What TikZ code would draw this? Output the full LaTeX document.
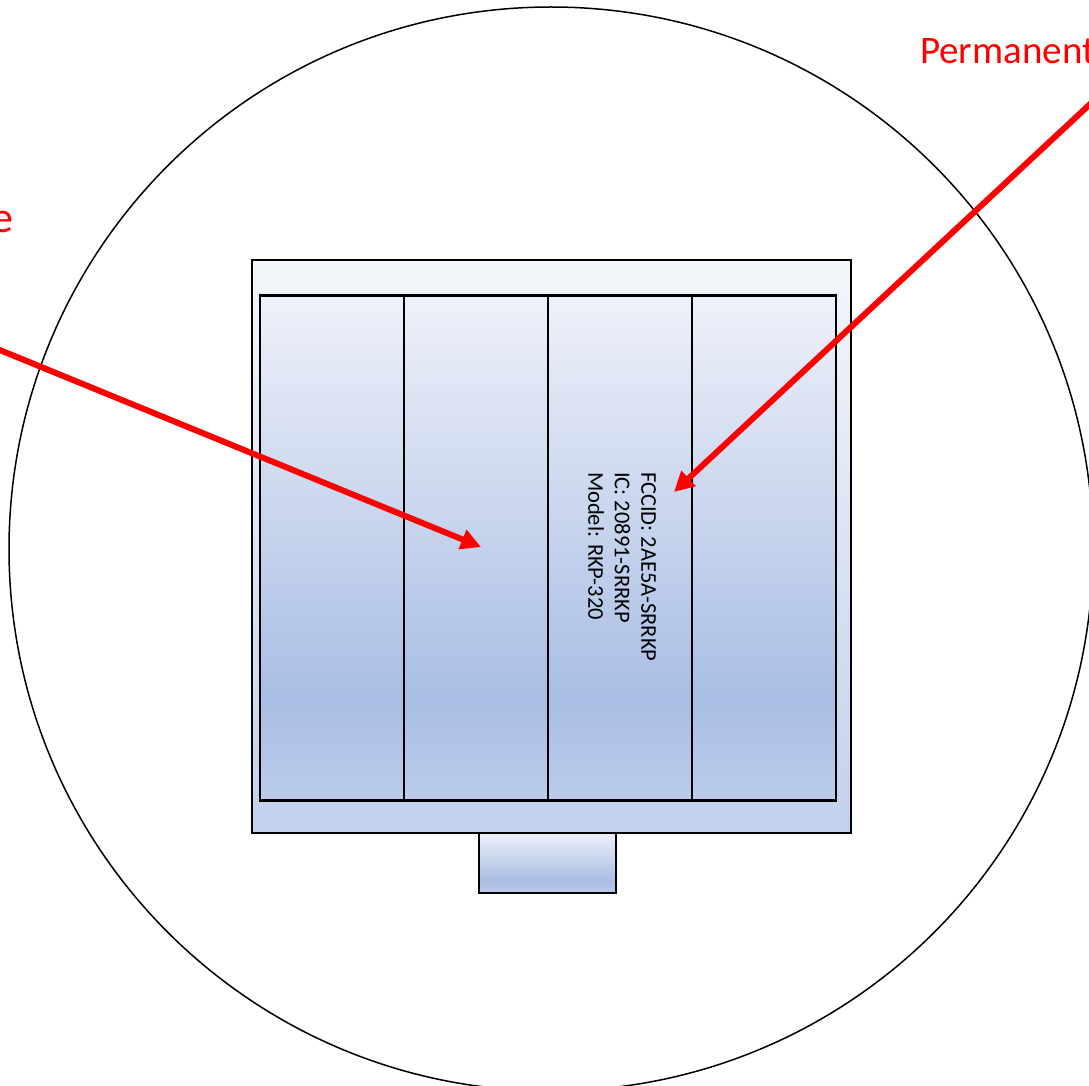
\documentclass[tikz,border=0pt]{standalone}
\usepackage{fontspec}
\setmainfont{Carlito}
\usetikzlibrary{positioning}
\usetikzlibrary{arrows.meta}
\definecolor{ptop}{RGB}{238,241,249}
\definecolor{pmid}{RGB}{169,190,228}
\definecolor{pbot}{RGB}{188,203,235}
\definecolor{btop}{RGB}{244,246,251}
\definecolor{bbot}{RGB}{194,209,236}
\pgfdeclareverticalshading{panelfill}{100bp}{color(0bp)=(pbot); color(25bp)=(pbot); color(35bp)=(pmid); color(75bp)=(ptop); color(100bp)=(ptop)}

\begin{document}
\begin{tikzpicture}[x=1pt,y=-1pt,
  outer sep=0pt, inner sep=0pt,
  panel/.style={draw,line width=2.2pt,shading=panelfill,minimum width=144pt,minimum height=505pt},
  ptr/.style={draw=red,line width=6pt,-{Triangle[length=20pt,width=20pt]}},
  callout/.style={text=red,font=\fontsize{39}{47}\selectfont}]
\useasboundingbox (0,0) rectangle (1089,1086);
\draw[line width=1.5pt] (551,549) circle[radius=542pt];
\node (case) [draw,line width=2.2pt,top color=btop,bottom color=bbot,minimum width=599pt,minimum height=573pt] at (551.5,546.5) {};
\node (pa) [panel] at (332,548) {};
\node (pb) [panel,right=0pt of pa] {};
\node (pc) [panel,right=0pt of pb] {};
\node (pd) [panel,right=0pt of pc] {};
\node (tab) [draw,line width=2.2pt,shading=panelfill,minimum width=137pt,minimum height=60pt] at (547.5,863) {};
\node (fcc) [rotate=-90,anchor=north west,align=left,font=\fontsize{22.5}{26.5}\selectfont] at (656,472) {FCCID: 2AE5A-SRRKP\\IC: 20891-SRRKP\\Model: RKP-320};
\node (perm) [callout,anchor=base west] at (920,64) {Permanent};
\node (elabel) [callout,anchor=base east,font=\fontsize{44}{52}\selectfont] at (13,232) {e};
\coordinate (lfrom) at (-10,346);
\coordinate (lto) at (481,547);
\coordinate (rfrom) at (1095,99.5);
\coordinate (rto) at (674,492);
\draw[ptr] (lfrom) -- (lto);
\draw[ptr] (rfrom) -- (rto);
\end{tikzpicture}
\end{document}
